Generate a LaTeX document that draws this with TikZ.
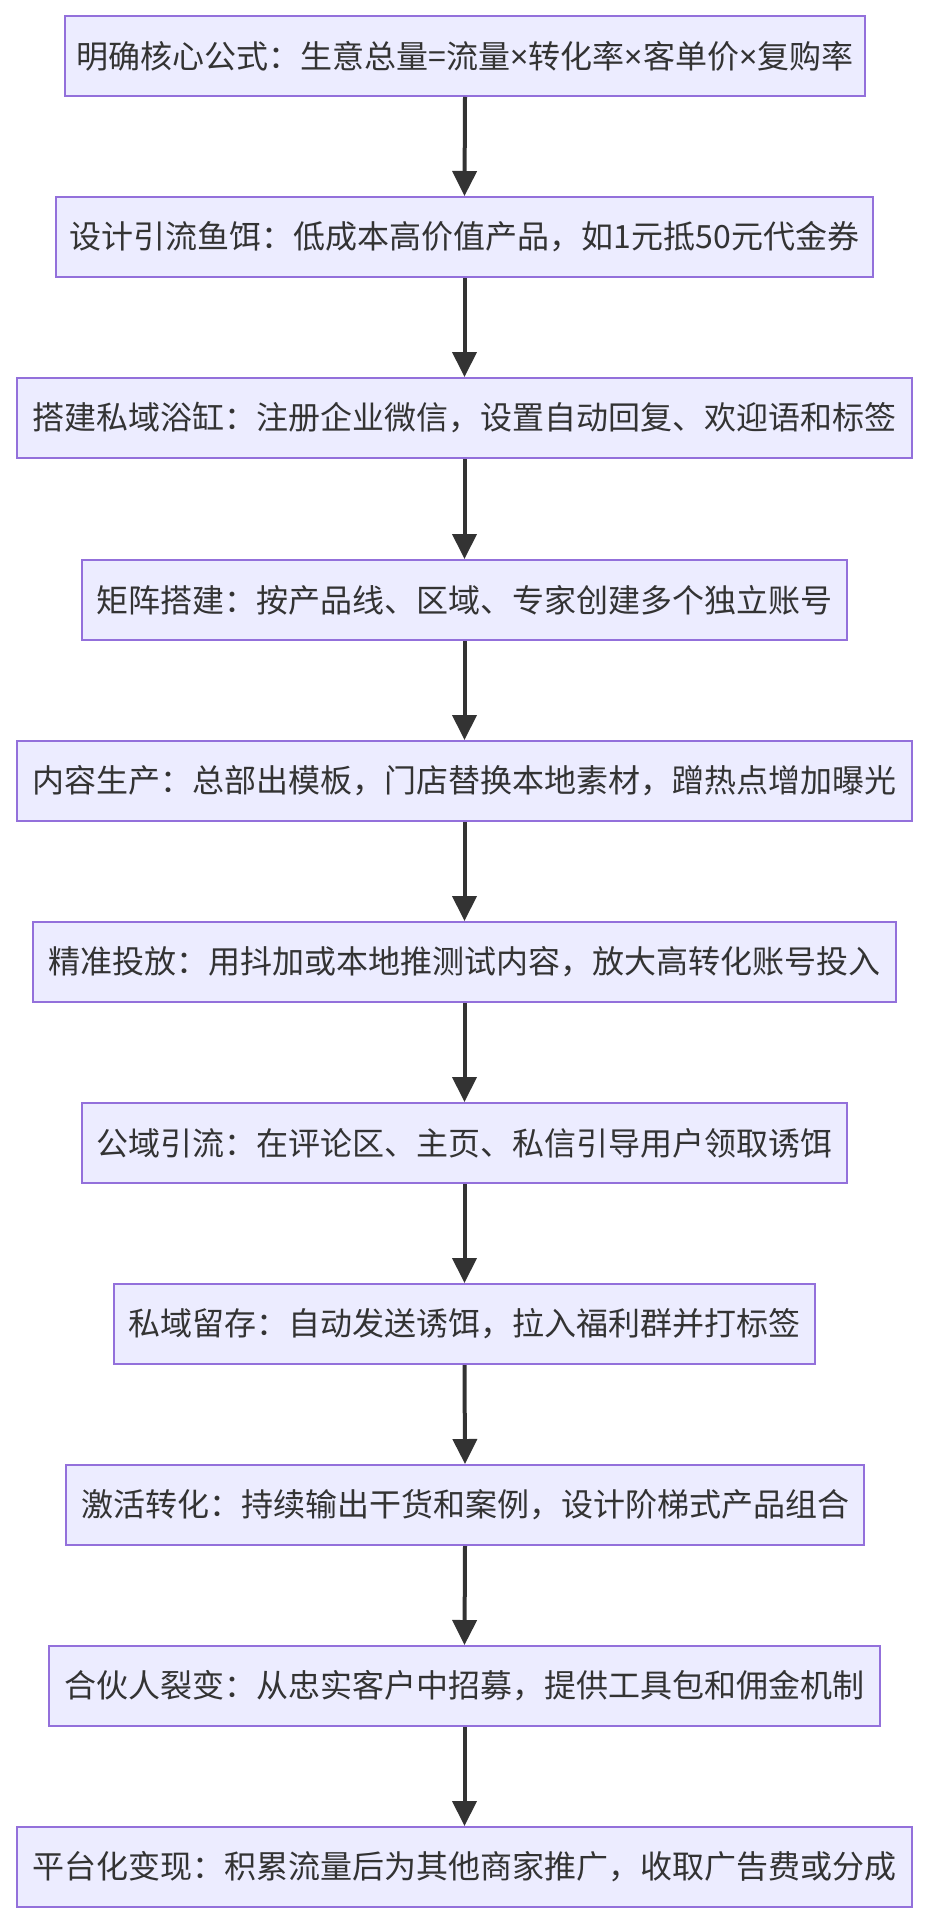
\documentclass[tikz,border=0pt]{standalone}
\usepackage{fontspec}
\setmainfont{Noto Sans CJK SC}
\newfontfamily\latinf{Noto Sans}
\newcommand\tms{{\latinf ×}}
\usetikzlibrary{arrows.meta}
\definecolor{boxfill}{HTML}{ECECFF}
\definecolor{boxline}{HTML}{9370DB}
\definecolor{txt}{HTML}{333333}
\definecolor{arr}{HTML}{333333}
\tikzset{
  stepbox/.style={rectangle, draw=boxline, fill=boxfill, line width=1.5pt,
    minimum height=60pt, inner sep=0pt, text=txt,
    font=\fontsize{24pt}{28pt}\selectfont},
  flowarrow/.style={draw=arr, line width=3pt,
    -{Triangle[width=18pt,length=18.75pt]}}
}
\begin{document}
\begin{tikzpicture}[x=0.75pt,y=-0.75pt]
\useasboundingbox (0,0) rectangle (928,1926);
\node[stepbox, minimum width=600pt]    (n1)  at (465,56)   {明确核心公式：生意总量=流量\tms 转化率\tms 客单价\tms 复购率};
\node[stepbox, minimum width=612.75pt] (n2)  at (464.5,237) {设计引流鱼饵：低成本高价值产品，如1元抵50元代金券};
\node[stepbox, minimum width=671.25pt] (n3)  at (464.5,418) {搭建私域浴缸：注册企业微信，设置自动回复、欢迎语和标签};
\node[stepbox, minimum width=573.75pt] (n4)  at (464.5,600) {矩阵搭建：按产品线、区域、专家创建多个独立账号};
\node[stepbox, minimum width=671.25pt] (n5)  at (464.5,781) {内容生产：总部出模板，门店替换本地素材，蹭热点增加曝光};
\node[stepbox, minimum width=647.25pt] (n6)  at (464.5,962) {精准投放：用抖加或本地推测试内容，放大高转化账号投入};
\node[stepbox, minimum width=573.75pt] (n7)  at (464.5,1143) {公域引流：在评论区、主页、私信引导用户领取诱饵};
\node[stepbox, minimum width=525.75pt] (n8)  at (464.5,1324) {私域留存：自动发送诱饵，拉入福利群并打标签};
\node[stepbox, minimum width=598.5pt]  (n9)  at (465,1505) {激活转化：持续输出干货和案例，设计阶梯式产品组合};
\node[stepbox, minimum width=623.25pt] (n10) at (464.5,1686) {合伙人裂变：从忠实客户中招募，提供工具包和佣金机制};
\node[stepbox, minimum width=671.25pt] (n11) at (464.5,1867) {平台化变现：积累流量后为其他商家推广，收取广告费或分成};
\foreach \a/\b in {n1/n2,n2/n3,n3/n4,n4/n5,n5/n6,n6/n7,n7/n8,n8/n9,n9/n10,n10/n11}
  \draw[flowarrow] (\a.south) -- (\b.north);
\end{tikzpicture}
\end{document}
